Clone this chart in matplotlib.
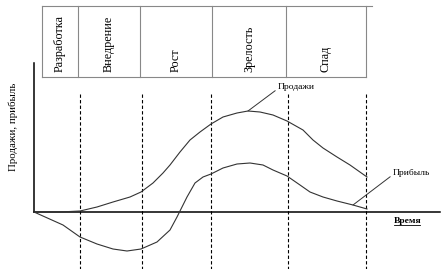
import matplotlib
matplotlib.use("Agg")
import matplotlib.pyplot as plt

plt.rcParams["font.family"] = ["Liberation Serif", "DejaVu Serif"]

# time axis (arbitrary units), values (arbitrary units)
sales_t = [0, 26, 46, 63, 79, 96, 107, 119, 129, 136, 146, 156, 166, 177, 189,
           203, 214, 226, 239, 253, 269, 279, 289, 303, 316, 333]
sales_v = [0, 0, 1, 5, 10, 15, 20, 29, 39, 47, 60, 72, 80, 88, 95,
           99, 101, 100, 97, 91, 82, 72, 64, 55, 47, 35]

profit_t = [0, 29, 46, 63, 79, 93, 107, 123, 136, 143, 153, 161, 169, 177, 189,
            203, 216, 229, 239, 253, 266, 276, 289, 303, 319, 333]
profit_v = [0, -13, -25, -32, -37, -39, -37, -30, -18, -5, 15, 29, 35, 38, 44,
            48, 49, 47, 42, 36, 27, 20, 15, 11, 7, 3]

stage_bounds = [46, 108, 177, 254, 332]
table_edges = [8, 44, 106, 178, 252, 332]
stages = ["Разработка", "Внедрение", "Рост", "Зрелость", "Спад"]

fig = plt.figure(figsize=(4.42, 2.69), dpi=100)
ax = fig.add_axes([0, 0, 1, 1])
ax.set_xlim(-34, 408)
ax.set_ylim(-57, 212)
ax.axis("off")

# axes lines
ax.plot([0, 406], [0, 0], color="black", lw=1.1)
ax.plot([0, 0], [0, 149], color="black", lw=1.1)

# stage separators
for b in stage_bounds:
    ax.plot([b, b], [118, -57], color="black", lw=0.8, ls=(0, (3, 2)))

# curves
ax.plot(sales_t, sales_v, color="#333333", lw=0.8)
ax.plot(profit_t, profit_v, color="#333333", lw=0.8)

# stage table
top, bottom = 206, 135
ax.plot([table_edges[0], table_edges[-1] + 6], [top, top], color="#888888", lw=0.8)
ax.plot([table_edges[0], table_edges[-1]], [bottom, bottom], color="#888888", lw=0.8)
for e in table_edges:
    ax.plot([e, e], [bottom, top], color="#888888", lw=0.8)
for i, name in enumerate(stages):
    xc = (table_edges[i] + table_edges[i + 1]) / 2
    ax.text(xc, bottom + 5, name, rotation=90, ha="center", va="bottom", fontsize=8.7)

# annotations
ax.annotate("Продажи", xy=(214, 101), xytext=(244, 125), fontsize=6.8, va="center",
            arrowprops=dict(arrowstyle="-", color="#333333", lw=0.7,
                            shrinkA=0, shrinkB=0, relpos=(0, 0.3)))
ax.annotate("Прибыль", xy=(319, 7), xytext=(359, 39), fontsize=6.8, va="center",
            arrowprops=dict(arrowstyle="-", color="#333333", lw=0.7,
                            shrinkA=0, shrinkB=0, relpos=(0, 0.3)))
ax.text(360, -9, "Время", fontsize=6.8, fontweight="bold", va="center")
ax.plot([360, 386], [-13, -13], color="black", lw=0.6)

ax.text(-21, 85, "Продажи, прибыль", rotation=90, ha="center", va="center", fontsize=7.8)

fig.savefig("out.png", dpi=100)
